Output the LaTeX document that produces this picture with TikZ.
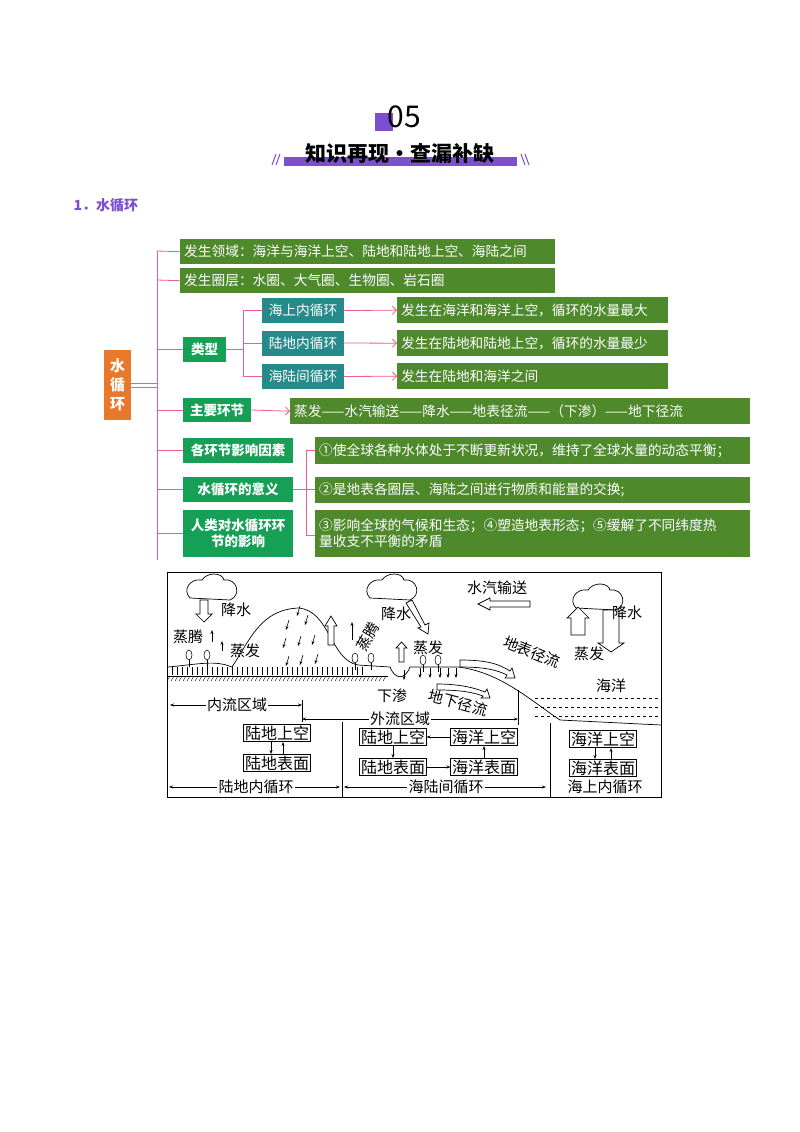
\documentclass[tikz,border=0pt]{standalone}
\usepackage{fontspec}
\setmainfont{Noto Sans CJK SC}
\usetikzlibrary{arrows.meta,positioning}
\definecolor{olive}{HTML}{4E8A2C}
\definecolor{bgreen}{HTML}{15A055}
\definecolor{teal2}{HTML}{268A8A}
\definecolor{orng}{HTML}{E8782A}
\definecolor{pnk}{HTML}{EE5A9A}
\definecolor{purp}{HTML}{7B4FD0}
\tikzset{
 ob/.style={fill=olive,text=white,font=\fontsize{13.7}{16}\selectfont,anchor=north west,inner xsep=4pt,inner ysep=3pt,align=left},
 gb/.style={fill=bgreen,text=white,font=\fontsize{13.5}{16}\selectfont\bfseries,align=center},
 tb/.style={fill=teal2,text=white,font=\fontsize{13.7}{15}\selectfont,align=center},
 pl/.style={pnk,line width=0.8pt},
 pa/.style={pnk,line width=0.8pt,-{Straight Barb[length=4pt]}},
 bx/.style={draw,line width=0.8pt,font=\fontsize{16}{17}\selectfont,inner sep=1.2pt},
 dl/.style={font=\fontsize{15}{16}\selectfont},
 la/.style={line width=0.6pt,-{Stealth[length=4pt]}},
 ba/.style={draw,line width=0.7pt,fill=white},
}
\begin{document}
\begin{tikzpicture}[x=1pt,y=-1pt]
\useasboundingbox (0,0) rectangle (800,1132);
% header
\fill[purp] (375,113) rectangle (393,131);
\node[font=\fontsize{30}{30}\selectfont] (num) at (404,117) {05};
\fill[purp] (284,157) rectangle (517,166);
\node[font=\fontsize{21}{22}\selectfont\bfseries] (ttl) at (400,153) {知识再现·查漏补缺};
\draw[purp,line width=1pt] (272,165)--(276,154) (276,165)--(280,154) (525,165)--(521,154) (529,165)--(525,154);
\node[text=purp,font=\fontsize{14}{15}\selectfont\bfseries,anchor=west] (sec) at (70,205) {1．水循环};
% mind map
\node[fill=orng,text=white,font=\fontsize{15}{19}\selectfont\bfseries,minimum width=27pt,minimum height=70pt,align=center] (root) at (117.5,385) {水\\循\\环};
\draw[pl] (root.east)++(0,-2) -- ++(26,0) (root.east)++(0,2) -- ++(26,0);
\draw[pl] (157,251) -- (157,560);
\node[ob,text width=367pt,minimum height=25pt] (r1) at (180,239) {发生领域：海洋与海洋上空、陆地和陆地上空、海陆之间};
\node[ob,text width=367pt,minimum height=25pt] (r2) at (180,268) {发生圈层：水圈、大气圈、生物圈、岩石圈};
\draw[pl] (157,251)--(r1.west) (157,280)--(r2.west);
\node[gb,minimum width=43pt,minimum height=25pt] (lx) at (204.5,349.5) {类型};
\draw[pl] (157,349.5)--(lx.west);
\node[tb,minimum width=82pt,minimum height=25pt] (t1) at (303,310.5) {海上内循环};
\node[tb,minimum width=82pt,minimum height=25pt] (t2) at (303,343) {陆地内循环};
\node[tb,minimum width=82pt,minimum height=25pt] (t3) at (303,376.5) {海陆间循环};
\draw[pl] (lx.east)--(243,349.5) (243,310.5)--(243,376.5) (243,310.5)--(t1.west) (243,343)--(t2.west) (243,376.5)--(t3.west);
\node[ob,text width=263pt,minimum height=26pt] (d1) at (397,297) {发生在海洋和海洋上空，循环的水量最大};
\node[ob,text width=263pt,minimum height=26pt] (d2) at (397,330) {发生在陆地和陆地上空，循环的水量最少};
\node[ob,text width=263pt,minimum height=26pt] (d3) at (397,363) {发生在陆地和海洋之间};
\draw[pa] (t1.east)--(d1.west); \draw[pa] (t2.east)--(d2.west); \draw[pa] (t3.east)--(d3.west);
\node[gb,minimum width=68pt,minimum height=24pt] (zy) at (217,410) {主要环节};
\draw[pl] (157,410)--(zy.west);
\node[ob,text width=452pt,minimum height=26pt] (hj) at (290,398) {蒸发——水汽输送——降水——地表径流——（下渗）——地下径流};
\draw[pa] (zy.east)--(hj.west);
\node[gb,minimum width=110pt,minimum height=25pt] (ys) at (238,450.5) {各环节影响因素};
\node[gb,minimum width=110pt,minimum height=25pt] (yy) at (238,489.5) {水循环的意义};
\node[gb,minimum width=110pt,minimum height=47pt] (rl) at (238,533.5) {人类对水循环环\\节的影响};
\draw[pl] (157,450.5)--(ys.west) (157,489.5)--(yy.west) (157,533.5)--(rl.west);
\node[ob,text width=427pt,minimum height=27pt] (m1) at (315,437) {①使全球各种水体处于不断更新状况，维持了全球水量的动态平衡；};
\node[ob,text width=427pt,minimum height=26pt] (m2) at (315,477) {②是地表各圈层、海陆之间进行物质和能量的交换;};
\node[ob,text width=427pt,minimum height=47pt] (m3) at (315,510) {③影响全球的气候和生态；④塑造地表形态；⑤缓解了不同纬度热\\量收支不平衡的矛盾};
\draw[pl] (yy.east)--(306,489.5) (306,450)--(306,535) (306,450)--(315,450) (306,489.5)--(315,489.5) (306,535)--(315,535);
% water cycle diagram
\draw[line width=0.9pt] (167,572) rectangle (661,797);
% ground
\draw[line width=0.7pt] (168,667) .. controls (200,664) and (215,660) .. (232,667) .. controls (250,640) and (260,610) .. (298,608) .. controls (330,610) and (330,660) .. (358,665) -- (390,667) .. controls (395,680) and (405,680) .. (410,667) -- (458,667) .. controls (500,672) and (530,700) .. (560,720) -- (661,725);
\draw[line width=0.7pt] (168,676) -- (388,676);
\foreach \x in {170,174,...,386} \draw[line width=0.4pt] (\x,676)--(\x-3,681);
\foreach \x in {172,177,...,365} \draw[line width=0.3pt] (\x,667)--(\x,675);
\foreach \y in {698,707,716} \draw[dashed,line width=0.6pt] (535,\y)--(661,\y);
\draw[line width=0.6pt] (518,690)--(518,725);
% clouds
\foreach \cx/\cy in {212/590,392/590,598/600}{
 \draw[line width=0.7pt,fill=white] (\cx-22,\cy+8) .. controls (\cx-30,\cy) and (\cx-22,\cy-12) .. (\cx-10,\cy-10) .. controls (\cx-5,\cy-18) and (\cx+10,\cy-18) .. (\cx+12,\cy-10) .. controls (\cx+25,\cy-12) and (\cx+30,\cy+5) .. (\cx+18,\cy+10) -- cycle;}
% trees
\foreach \tx/\ty in {189/655,207/655,355/658,371/658,423/660,438/660}{
 \draw[line width=0.5pt] (\tx,\ty+5)--(\tx,\ty+12); \draw[line width=0.5pt] (\tx,\ty) ellipse (3 and 5);}
% block arrows
\draw[ba] (200,600)--(208,600)--(208,614)--(212,614)--(204,622)--(196,614)--(200,614)--cycle;
\draw[ba] (328,645)--(334,645)--(334,626)--(337,626)--(331,616)--(325,626)--(328,626)--cycle;
\draw[ba] (406,603)--(412,600)--(425,625)--(429,623)--(428,634)--(418,628)--(421,627)--cycle;
\draw[ba] (399,662)--(404,662)--(404,648)--(407,648)--(401.5,642)--(396,648)--(399,648)--cycle;
\draw[ba] (530,601)--(490,601)--(490,598)--(478,604)--(490,610)--(490,607)--(530,607)--cycle;
\draw[ba] (571,635)--(571,618)--(567,618)--(578,607)--(589,618)--(585,618)--(585,635)--cycle;
\draw[ba] (603,610)--(603,643)--(598,643)--(611,652)--(624,643)--(619,643)--(619,610)--cycle;
\draw[ba] (460,660) .. controls (490,660) and (500,665) .. (510,671) -- (512,668) -- (515,678) -- (505,678) -- (507,675) .. controls (497,670) and (485,667) .. (460,667) -- cycle;
\draw[ba] (437,684) .. controls (460,684) and (475,688) .. (485,692) -- (487,689) -- (490,698) -- (481,698) -- (483,696) .. controls (472,692) and (460,690) .. (437,690) -- cycle;
% thin arrows
\draw[la] (212,642)--(212,630); \draw[la] (222,651)--(222,641); \draw[la] (352,640)--(352,622);
\foreach \ax/\ay in {297/606,286/620,305/615,283/638,298/636,312/635,286/656,300/655,315/654}{\draw[la] (\ax+3,\ay)--(\ax,\ay+10);}
\foreach \ax in {420,430,440,448,456}{\draw[la] (\ax,668)--(\ax,678);}
\draw[la] (404,670)--(404,680);
% labels
\node[dl] (l1) at (236,610) {降水};
\node[dl] (l2) at (188,637) {蒸腾};
\node[dl] (l3) at (245,651) {蒸发};
\node[dl] (l4) at (396,614) {降水};
\node[dl,rotate=60] (l5) at (368,637) {蒸腾};
\node[dl] (l6) at (428,648) {蒸发};
\node[dl] (l7) at (497,588) {水汽输送};
\node[dl,rotate=-22] (l8) at (532,652) {地表径流};
\node[dl] (l9) at (627,613) {降水};
\node[dl] (l10) at (589,654) {蒸发};
\node[dl] (l11) at (611,686) {海洋};
\node[dl] (l12) at (392,696) {下渗};
\node[dl,rotate=-15] (l13) at (458,703) {地下径流};
\node[dl,fill=white,inner sep=1pt] (nl) at (237,705) {内流区域};
\coordinate (nlL) at (170,705); \coordinate (nlR) at (302,705);
\draw[la] (nl.west)--(nlL); \draw[la] (nl.east)--(nlR);
\draw[line width=0.6pt] (302,700)--(302,722);
\node[dl,fill=white,inner sep=1pt] (wl) at (400,719) {外流区域};
\coordinate (wlL) at (302,719); \coordinate (wlR) at (518,719);
\draw[la] (wl.west)--(wlL); \draw[la] (wl.east)--(wlR);
\node[bx] (a1) at (277,733) {陆地上空};
\node[bx] (a2) at (277,763) {陆地表面};
\node[bx] (b1) at (393,737) {陆地上空};
\node[bx] (b2) at (484,737) {海洋上空};
\node[bx] (b3) at (393,767) {陆地表面};
\node[bx] (b4) at (484,767) {海洋表面};
\node[bx] (c1) at (603,739) {海洋上空};
\node[bx] (c2) at (603,768) {海洋表面};
\draw[la] ([xshift=-6pt]a1.south)--([xshift=-6pt]a2.north); \draw[la] ([xshift=6pt]a2.north)--([xshift=6pt]a1.south);
\draw[la] (b2.west)--(b1.east); \draw[la] (b1.south)--(b3.north); \draw[la] (b3.east)--(b4.west); \draw[la] (b4.north)--(b2.south);
\draw[la] ([xshift=-8pt]c1.south)--([xshift=-8pt]c2.north); \draw[la] ([xshift=8pt]c2.north)--([xshift=8pt]c1.south);
\draw[line width=0.6pt] (342,722)--(342,797) (550,723)--(550,797);
\node[dl,fill=white,inner sep=1pt] (q1) at (256,787) {陆地内循环};
\coordinate (q1L) at (169,787); \coordinate (q1R) at (340,787);
\draw[la] (q1.west)--(q1L); \draw[la] (q1.east)--(q1R);
\node[dl,fill=white,inner sep=1pt] (q2) at (446,787) {海陆间循环};
\coordinate (q2L) at (344,787); \coordinate (q2R) at (546,787);
\draw[la] (q2.west)--(q2L); \draw[la] (q2.east)--(q2R);
\node[dl] (q3) at (605,787) {海上内循环};
\end{tikzpicture}
\end{document}
